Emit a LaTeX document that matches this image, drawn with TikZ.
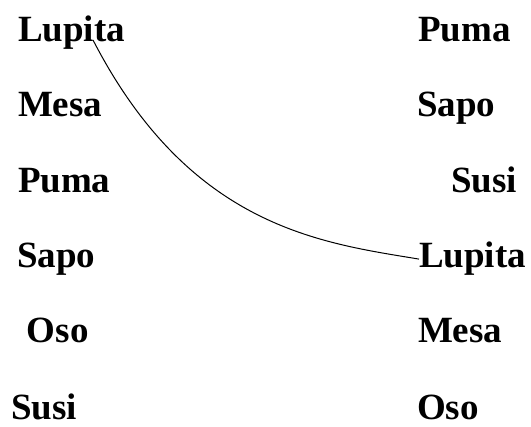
\documentclass[tikz,border=0pt]{standalone}
\usepackage{fontspec}
\setmainfont{Liberation Serif}
\usetikzlibrary{calc}
\begin{document}
\begin{tikzpicture}[x=1pt,y=1pt,
  word/.style={inner sep=0pt, outer sep=0pt, anchor=base west, font=\fontsize{37}{37}\selectfont\bfseries}]
\useasboundingbox (0,0) rectangle (531,427);
% left column
\node[word] (l1) at (18,385) {Lupita};
\node[word] (l2) at (18,310) {Mesa};
\node[word] (l3) at (18,234) {Puma};
\node[word] (l4) at (17,159) {Sapo};
\node[word] (l5) at (27,84) {Oso};
\node[word] (l6) at (11,7) {Susi};
% right column
\node[word] (r1) at (418,385) {Puma};
\node[word] (r2) at (417,310) {Sapo};
\node[word] (r3) at (451,234) {Susi};
\node[word] (r4) at (419,159) {Lupita};
\node[word] (r5) at (418,84) {Mesa};
\node[word] (r6) at (417,7) {Oso};
\coordinate (s) at ($(l1.base west)+(75,2)$);
\draw[line width=1pt] (s) .. controls (190,199) and (322,184) .. (r4.west);
\end{tikzpicture}
\end{document}
